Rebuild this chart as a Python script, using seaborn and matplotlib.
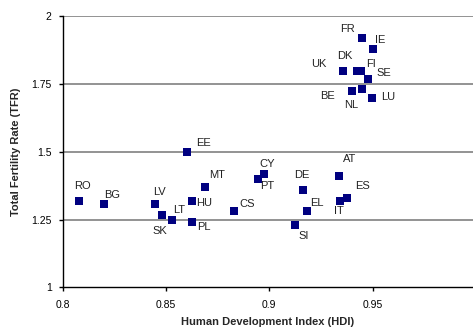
import pandas as pd
import matplotlib.pyplot as plt
import seaborn as sns


# =========================================
# DATA
# =========================================

countries = ["FR", "IE", "DK", "FI", "UK", "SE", "NL", "BE", "LU",
             "EE", "RO", "BG", "LV", "SK", "LT", "HU", "PL", "MT", "CS",
             "CY", "PT", "DE", "AT", "ES", "IT", "EL", "SI"]

hdi = [0.945, 0.950, 0.9423, 0.9443, 0.9355, 0.9476, 0.9450, 0.9399, 0.9496,
       0.8600, 0.8079, 0.8200, 0.8447, 0.8480, 0.8529, 0.8626, 0.8626, 0.8687, 0.8828,
       0.8973, 0.8944, 0.9163, 0.9337, 0.9375, 0.9342, 0.9181, 0.9124]

tfr = [1.919, 1.880, 1.798, 1.798, 1.798, 1.768, 1.733, 1.722, 1.698,
       1.500, 1.319, 1.308, 1.308, 1.267, 1.249, 1.319, 1.242, 1.371, 1.282,
       1.419, 1.400, 1.360, 1.411, 1.330, 1.319, 1.282, 1.231]

# label offsets in pixels (dx, dy)
label_dx = [-15, 8, -12, 10, -24, 16, -11, -24, 16,
            17, 3, 8, 4, -2, 7, 12, 12, 12, 13,
            3, 9, -1, 11, 16, -1, 10, 9]

label_dy = [9, 9, 15, 7, 7, 6, -16, -5, 1,
            9, 15, 9, 12, -16, 10, -2, -5, 12, 7,
            10, -7, 15, 17, 12, -10, 8, -11]

df = pd.DataFrame({"Country": countries, "HDI": hdi, "TFR": tfr})


# =========================================
# PLOT
# =========================================

sns.set_style("white")
plt.rcParams["font.family"] = ["Liberation Sans", "DejaVu Sans"]

fig = plt.figure(figsize=(4.73, 3.31), dpi=100)
ax = fig.add_axes([62.7 / 473, 1 - 287.3 / 331, 1 - 62.7 / 473, 271.2 / 331])

for y in [1.25, 1.5, 1.75, 2.0]:
    ax.axhline(y, color="#808080", linewidth=1.2, zorder=0)

sns.scatterplot(
    data=df,
    x="HDI",
    y="TFR",
    marker="s",
    s=30,
    color="#000080",
    linewidth=0,
    ax=ax,
    zorder=3,
    clip_on=False
)

for name, x, y, dx, dy in zip(countries, hdi, tfr, label_dx, label_dy):
    ax.annotate(
        name,
        (x, y),
        xytext=(dx, dy),
        textcoords="offset pixels",
        ha="center",
        va="center",
        fontsize=8,
        color="#222222"
    )

ax.set_xlim(0.8, 0.8 + (473 - 62.7) / 2066)
ax.set_ylim(1, 2)
ax.set_xticks([0.8, 0.85, 0.9, 0.95])
ax.set_xticklabels(["0.8", "0.85", "0.9", "0.95"])
ax.set_yticks([1, 1.25, 1.5, 1.75, 2])
ax.set_yticklabels(["1", "1.25", "1.5", "1.75", "2"])

ax.tick_params(axis="both", labelsize=7.5, length=3, width=1, direction="out",
               colors="black", pad=5)
ax.tick_params(axis="x", bottom=True, pad=6)
ax.tick_params(axis="y", left=True)

for side in ["top", "right"]:
    ax.spines[side].set_visible(False)
for side in ["left", "bottom"]:
    ax.spines[side].set_color("black")
    ax.spines[side].set_linewidth(1)

ax.set_xlabel("Human Development Index (HDI)", fontsize=8, fontweight="bold", labelpad=5)
ax.set_ylabel("Total Fertility Rate (TFR)", fontsize=8, fontweight="bold", labelpad=7)

plt.savefig("out.png", dpi=100)
